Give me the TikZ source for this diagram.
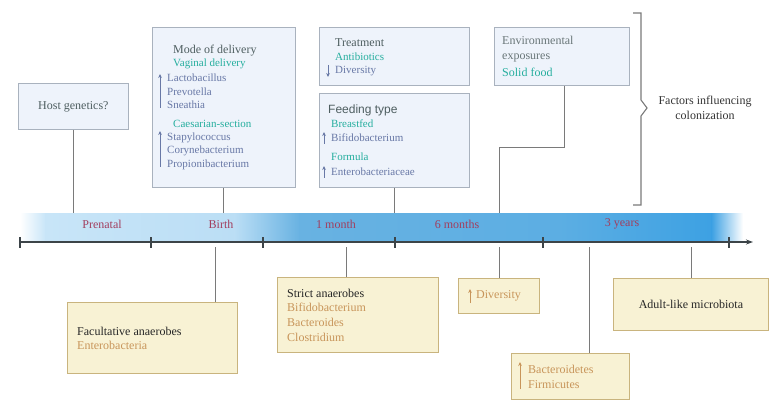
\documentclass[tikz,border=0pt]{standalone}
\usepackage{fontspec}
\setmainfont{Liberation Serif}
\setsansfont{Liberation Sans}
\usetikzlibrary{arrows.meta}

\definecolor{boxblue}{HTML}{A9B2BE}
\definecolor{fillblue}{HTML}{EEF3FB}
\definecolor{boxtan}{HTML}{C9B47E}
\definecolor{filltan}{HTML}{F8F2D4}
\definecolor{headc}{HTML}{4E5E60}
\definecolor{tealc}{HTML}{25AE9E}
\definecolor{itemc}{HTML}{6878A6}
\definecolor{tanc}{HTML}{C8955A}
\definecolor{lblc}{HTML}{A23E5E}
\definecolor{linkgrey}{HTML}{7A7A7A}
\definecolor{axisgrey}{HTML}{3C4448}
\definecolor{bandA}{HTML}{C8E5F8}
\definecolor{bandB}{HTML}{BBDEF5}
\definecolor{bandC}{HTML}{68B2E2}
\definecolor{bandD}{HTML}{5CAEE3}
\definecolor{bandE}{HTML}{3DA1E3}

\newcommand\bigtxt{\fontsize{12}{15}\selectfont}
\newcommand\smalltxt{\fontsize{11}{13.5}\selectfont}

\begin{document}
\begin{tikzpicture}[x=1pt, y=-1pt, font=\bigtxt,
  topbox/.style={draw=boxblue, fill=fillblue, line width=0.8pt, anchor=north west, inner sep=0},
  botbox/.style={draw=boxtan, fill=filltan, line width=0.8pt, anchor=north west, inner sep=0},
  txt/.style={anchor=west, inner sep=0, align=left},
  lbl/.style={inner sep=0, text=lblc},
  link/.style={draw=linkgrey, line width=1pt},
  up/.style={-{Stealth[length=4pt,width=3.6pt]}, line width=0.9pt}]
\useasboundingbox (0,0) rectangle (781,406);

% timeline band
\shade[left color=white, right color=bandA] (20,213) rectangle (46,240);
\shade[left color=bandA, right color=bandB] (45.5,213) rectangle (235,240);
\shade[left color=bandB, right color=bandC] (234.5,213) rectangle (300,240);
\shade[left color=bandC, right color=bandD] (299.5,213) rectangle (560,240);
\shade[left color=bandD, right color=bandE] (559.5,213) rectangle (712,240);
\shade[left color=bandE, right color=white] (711.5,213) rectangle (743,240);
\node[minimum width=723pt, minimum height=27pt, inner sep=0, anchor=north west] (band) at (20,213) {};

\node[lbl] (prenatal) at (102,224) {Prenatal};
\node[lbl] (birth)    at (221,224) {Birth};
\node[lbl] (month1)   at (336,224) {1 month};
\node[lbl] (month6)   at (457,224) {6 months};
\node[lbl] (year3)    at (622,224) {3 years};

% axis
\coordinate (axstart) at (20,242);
\coordinate (axend)   at (753,242);
\draw[axisgrey, line width=1.2pt, -{Stealth[length=7pt,width=5pt]}] (axstart) -- (axend);
\foreach \t in {20,151,263,395,543,729}
  \draw[axisgrey, line width=1.2pt] (\t,237) -- (\t,248);

% factors (top)
\node[topbox, minimum width=110pt, minimum height=46pt, text=headc] (host) at (18,83) {Host genetics?};
\node[topbox, minimum width=143pt, minimum height=160pt] (mode)  at (152,27) {};
\node[topbox, minimum width=150pt, minimum height=58pt]  (treat) at (319,27) {};
\node[topbox, minimum width=150pt, minimum height=94pt]  (feed)  at (319,93) {};
\node[topbox, minimum width=135pt, minimum height=58pt]  (env)   at (494,27) {};

\node[txt, text=headc] (modeT) at (173,51) {Mode of delivery};
\node[txt, text=tealc, font=\smalltxt] (vagT) at (173,64) {Vaginal delivery};
\node[txt, text=itemc, font=\smalltxt] (vagL) at (167,91.5) {Lactobacillus\\Prevotella\\Sneathia};
\node[txt, text=tealc, font=\smalltxt] (caeT) at (173,124) {Caesarian-section};
\node[txt, text=itemc, font=\smalltxt] (caeL) at (167,151) {Stapylococcus\\Corynebacterium\\Propionibacterium};
\draw[up, itemc] (160,108) -- (160,74);
\draw[up, itemc] (160,167) -- (160,131);

\node[txt, text=headc] (treatT) at (335,43) {Treatment};
\node[txt, text=tealc, font=\smalltxt] (antiT) at (335,57) {Antibiotics};
\node[txt, text=itemc, font=\smalltxt] (antiL) at (335,71) {Diversity};
\draw[up, itemc] (328,65) -- (328,77);

\node[txt, text=headc, font=\sffamily\fontsize{12}{14}\selectfont] (feedT) at (328,110) {Feeding type};
\node[txt, text=tealc, font=\smalltxt] (breastT) at (331,124) {Breastfed};
\node[txt, text=itemc, font=\smalltxt] (breastL) at (331,138) {Bifidobacterium};
\node[txt, text=tealc, font=\smalltxt] (formT) at (331,157) {Formula};
\node[txt, text=itemc, font=\smalltxt] (formL) at (331,172) {Enterobacteriaceae};
\draw[up, itemc] (324,144) -- (324,132);
\draw[up, itemc] (324,178) -- (324,166);

\node[txt, text=headc!85] (envT) at (502,49.5) {Environmental\\exposures};
\node[txt, text=tealc] (solidT) at (502,72) {Solid food};

% links to the band
\coordinate (envdrop) at (499,148);
\draw[link] (host.south) -- (host.south |- band.north);
\draw[link] (mode.south) -- (mode.south |- band.north);
\draw[link] (feed.south) -- (feed.south |- band.north);
\draw[link] ([xshift=2.5pt]env.south) |- (envdrop) -- (envdrop |- band.north);

% bracket
\draw[linkgrey, line width=1.1pt] (633,13) -- (641,13) -- (641,100) -- (647,108)
  -- (641,116) -- (641,205) -- (633,205);
\node[align=center, inner sep=0, text=black!80] (factors) at (705,108) {Factors influencing\\colonization};

% microbiota (bottom)
\node[botbox, minimum width=170pt, minimum height=71pt] (facul)  at (67,302) {};
\node[botbox, minimum width=161pt, minimum height=75pt] (strict) at (277,277) {};
\node[botbox, minimum width=81pt,  minimum height=35pt] (divers) at (458,278) {};
\node[botbox, minimum width=118pt, minimum height=46pt] (bacter) at (511,353) {};
\node[botbox, minimum width=155pt, minimum height=52pt, text=black!85] (adult) at (613,278) {Adult-like microbiota};

\node[txt, text=black!85] (faculT) at (77,331) {Facultative anaerobes};
\node[txt, text=tanc] (faculL) at (77,345) {Enterobacteria};
\node[txt, text=black!85] (strictT) at (287,293) {Strict anaerobes};
\node[txt, text=tanc] (strictL) at (287,322) {Bifidobacterium\\Bacteroides\\Clostridium};
\node[txt, text=tanc] (diversT) at (476,296) {Diversity};
\draw[up, tanc] (470,303) -- (470,289);
\node[txt, text=tanc] (bacterL) at (528,376.5) {Bacteroidetes\\Firmicutes};
\draw[up, tanc] (520,389) -- (520,362);

% links from the axis
\coordinate (fdrop) at (215,247);
\coordinate (sdrop) at (346,247);
\coordinate (ddrop) at (499,247);
\coordinate (bdrop) at (589,247);
\coordinate (adrop) at (691,247);
\draw[link] (fdrop) -- (fdrop |- facul.north);
\draw[link] (sdrop) -- (sdrop |- strict.north);
\draw[link] (ddrop) -- (ddrop |- divers.north);
\draw[link] (bdrop) -- (bdrop |- bacter.north);
\draw[link] (adrop) -- (adrop |- adult.north);
\end{tikzpicture}
\end{document}
